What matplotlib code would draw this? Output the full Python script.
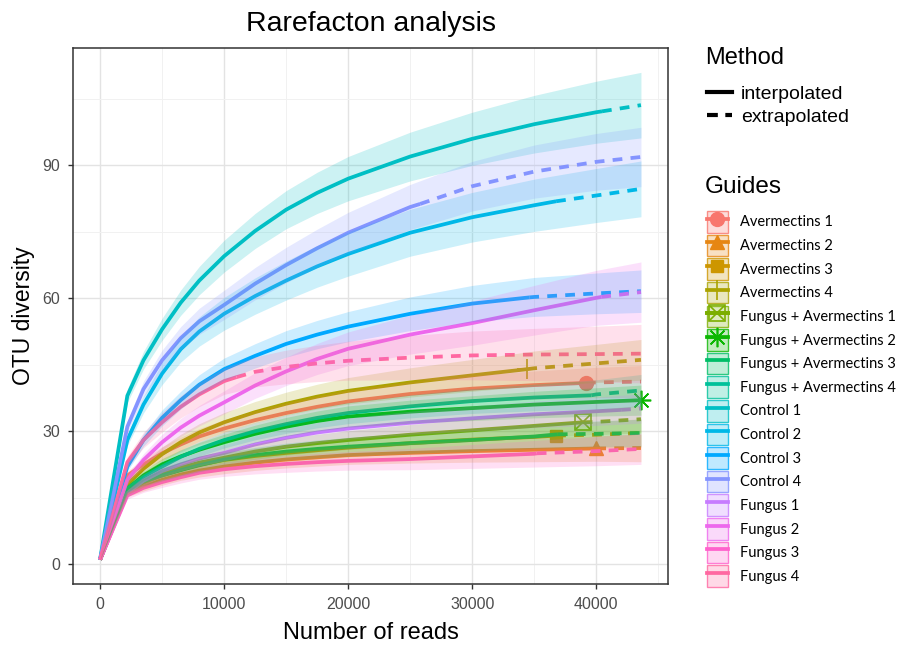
import numpy as np
import matplotlib
matplotlib.use("Agg")
import matplotlib.pyplot as plt
from matplotlib.lines import Line2D
from matplotlib.patches import Patch
from matplotlib.ticker import MultipleLocator

plt.rcParams['font.family'] = ['Liberation Sans', 'DejaVu Sans']

# ---------------- data ----------------
guides = ["Avermectins 1", "Avermectins 2", "Avermectins 3", "Avermectins 4",
          "Fungus + Avermectins 1", "Fungus + Avermectins 2",
          "Fungus + Avermectins 3", "Fungus + Avermectins 4",
          "Control 1", "Control 2", "Control 3", "Control 4",
          "Fungus 1", "Fungus 2", "Fungus 3", "Fungus 4"]

x_knots = [1, 2200, 3500, 5000, 6500, 8000, 10000, 12500, 15000, 17500,
           20000, 25000, 30000, 35000, 40000, 43600]

# sample size (end of interpolation) and observed diversity at it
sample_size = [39170, 40000, 36760, 34440, 38900, 43600, 36900, 39600,
               40460, 36760, 34600, 25800, 42000, 40400, 35200, 11000]
observed = [40.9, 26.1, 29.0, 44.0, 32.0, 37.0, 29.3, 38.1,
            102.2, 81.9, 60.2, 81.3, 34.8, 60.3, 25.0, 42.2]

# diversity estimates at x_knots
y_av1 = [1, 20.0, 22.5, 25.0, 27.0, 28.8, 30.6, 32.5, 34.1, 35.5, 36.7, 38.4, 39.6, 40.4, 41.0, 41.2]
y_av2 = [1, 16.0, 17.5, 19.0, 20.2, 21.1, 22.0, 22.9, 23.6, 24.1, 24.6, 25.1, 25.5, 25.8, 26.1, 26.2]
y_av3 = [1, 16.5, 18.3, 20.0, 21.3, 22.4, 23.5, 24.4, 25.1, 25.7, 26.3, 27.3, 28.1, 28.7, 29.2, 29.6]
y_av4 = [1, 18.0, 21.5, 24.8, 27.5, 29.7, 32.0, 34.3, 36.2, 37.8, 39.1, 41.0, 42.6, 44.2, 45.3, 46.1]
y_fa1 = [1, 16.5, 18.5, 20.5, 21.8, 22.9, 24.0, 25.4, 26.5, 27.3, 28.0, 29.2, 30.2, 31.2, 32.1, 32.7]
y_fa2 = [1, 17.0, 20.0, 22.5, 24.3, 25.8, 27.5, 29.4, 31.0, 32.3, 33.3, 34.4, 35.2, 36.0, 36.6, 37.0]
y_fa3 = [1, 17.0, 18.7, 20.0, 21.2, 22.3, 23.6, 24.6, 25.4, 26.0, 26.5, 27.3, 28.0, 28.8, 29.4, 29.6]
y_fa4 = [1, 17.0, 19.7, 22.0, 24.2, 26.0, 28.0, 30.0, 31.6, 33.0, 34.1, 35.6, 36.8, 37.6, 38.3, 39.2]
y_ct1 = [1, 38.0, 46.0, 53.0, 59.0, 64.0, 69.5, 75.2, 80.0, 83.8, 87.0, 92.0, 96.0, 99.3, 102.0, 103.6]
y_ct2 = [1, 28.0, 36.0, 43.0, 48.5, 52.5, 56.5, 60.5, 64.0, 67.2, 70.0, 74.8, 78.3, 81.0, 83.2, 84.7]
y_ct3 = [1, 22.0, 28.0, 33.0, 37.0, 40.5, 44.0, 47.0, 49.7, 51.8, 53.6, 56.5, 58.8, 60.3, 61.1, 61.6]
y_ct4 = [1, 31.0, 39.5, 46.0, 51.0, 54.8, 58.5, 63.3, 67.5, 71.3, 74.8, 80.6, 85.3, 88.6, 90.8, 91.9]
y_fu1 = [1, 16.0, 18.8, 21.0, 22.5, 23.8, 25.1, 27.0, 28.5, 29.7, 30.6, 31.9, 32.9, 33.8, 34.5, 35.1]
y_fu2 = [1, 19.0, 23.5, 27.5, 30.8, 33.5, 36.5, 40.3, 43.5, 46.3, 48.6, 51.8, 54.4, 57.3, 60.1, 61.4]
y_fu3 = [1, 15.5, 17.2, 18.5, 19.6, 20.6, 21.4, 22.1, 22.6, 23.0, 23.3, 23.7, 24.3, 24.9, 25.5, 26.0]
y_fu4 = [1, 23.0, 28.0, 32.0, 35.5, 38.3, 41.3, 43.4, 44.5, 45.3, 45.9, 46.6, 47.1, 47.3, 47.4, 47.5]

# half width of the 95% confidence band at x_knots
ci_av1 = [0, 1.0, 1.25, 1.5, 1.65, 1.8, 2.0, 2.15, 2.3, 2.45, 2.6, 2.8, 3.0, 3.2, 3.4, 3.6]
ci_av2 = [0, 0.8, 1.0, 1.2, 1.3, 1.45, 1.6, 1.75, 1.9, 2.0, 2.1, 2.3, 2.5, 2.7, 2.9, 3.1]
ci_av3 = [0, 0.8, 1.0, 1.2, 1.3, 1.45, 1.6, 1.75, 1.9, 2.0, 2.1, 2.3, 2.5, 2.7, 3.0, 3.2]
ci_av4 = [0, 1.0, 1.3, 1.6, 1.8, 2.0, 2.2, 2.4, 2.6, 2.8, 3.0, 3.3, 3.6, 3.9, 4.3, 4.6]
ci_fa1 = [0, 0.8, 1.0, 1.2, 1.3, 1.45, 1.6, 1.75, 1.9, 2.0, 2.1, 2.3, 2.5, 2.7, 2.9, 3.1]
ci_fa2 = [0, 0.9, 1.1, 1.3, 1.5, 1.65, 1.8, 1.95, 2.1, 2.25, 2.4, 2.6, 2.8, 3.0, 3.2, 3.4]
ci_fa3 = [0, 0.8, 1.0, 1.2, 1.3, 1.45, 1.6, 1.75, 1.9, 2.0, 2.1, 2.3, 2.5, 2.7, 2.9, 3.1]
ci_fa4 = [0, 0.9, 1.1, 1.3, 1.5, 1.65, 1.8, 1.95, 2.1, 2.25, 2.4, 2.6, 2.8, 3.0, 3.3, 3.6]
ci_ct1 = [0, 1.5, 2.0, 2.5, 2.85, 3.2, 3.6, 3.95, 4.3, 4.65, 5.0, 5.5, 6.0, 6.5, 7.0, 7.4]
ci_ct2 = [0, 1.3, 1.9, 2.5, 2.9, 3.3, 3.7, 4.1, 4.4, 4.7, 5.0, 5.3, 5.6, 5.9, 6.1, 6.3]
ci_ct3 = [0, 1.0, 1.4, 1.8, 2.0, 2.25, 2.5, 2.75, 3.0, 3.2, 3.4, 3.8, 4.1, 4.4, 4.6, 4.8]
ci_ct4 = [0, 1.3, 1.8, 2.3, 2.6, 2.95, 3.3, 3.65, 4.0, 4.3, 4.6, 5.1, 5.6, 6.0, 6.4, 6.7]
ci_fu1 = [0, 0.8, 1.05, 1.3, 1.45, 1.6, 1.8, 1.95, 2.1, 2.25, 2.4, 2.6, 2.8, 3.0, 3.2, 3.3]
ci_fu2 = [0, 1.0, 1.4, 1.8, 2.05, 2.3, 2.6, 2.9, 3.2, 3.5, 3.8, 4.4, 5.0, 5.6, 6.2, 6.8]
ci_fu3 = [0, 0.8, 1.0, 1.2, 1.3, 1.45, 1.6, 1.75, 1.9, 2.0, 2.1, 2.4, 2.7, 3.0, 3.3, 3.5]
ci_fu4 = [0, 1.3, 1.75, 2.2, 2.5, 2.75, 3.0, 3.4, 3.8, 4.1, 4.4, 5.0, 5.5, 5.9, 6.3, 6.6]

x_ticks = [0, 10000, 20000, 30000, 40000]
y_ticks = [0, 30, 60, 90]

y_all = [y_av1, y_av2, y_av3, y_av4, y_fa1, y_fa2, y_fa3, y_fa4,
         y_ct1, y_ct2, y_ct3, y_ct4, y_fu1, y_fu2, y_fu3, y_fu4]
ci_all = [ci_av1, ci_av2, ci_av3, ci_av4, ci_fa1, ci_fa2, ci_fa3, ci_fa4,
          ci_ct1, ci_ct2, ci_ct3, ci_ct4, ci_fu1, ci_fu2, ci_fu3, ci_fu4]


# ------------- ggplot-like hue palette -------------
def hcl_color(h, c=100.0, l=65.0):
    hr = np.deg2rad(h)
    U, V = c * np.cos(hr), c * np.sin(hr)
    Xn, Yn, Zn = 95.047, 100.0, 108.883
    Y = Yn * ((l + 16) / 116) ** 3
    den = Xn + 15 * Yn + 3 * Zn
    un, vn = 4 * Xn / den, 9 * Yn / den
    u = U / (13 * l) + un
    v = V / (13 * l) + vn
    X = 9.0 * Y * u / (4 * v)
    Z = 3 * Y / v - X / 3 - 5 * Y
    M = np.array([[3.240479, -1.537150, -0.498535],
                  [-0.969256, 1.875992, 0.041556],
                  [0.055648, -0.204043, 1.057311]])
    lin = M @ (np.array([X, Y, Z]) / 100.0)
    out = np.where(lin > 0.0031308, 1.055 * np.abs(lin) ** (1 / 2.4) - 0.055, 12.92 * lin)
    return tuple(np.clip(out, 0, 1))


n_g = len(guides)
colors = [hcl_color(h) for h in np.linspace(15, 375, n_g + 1)[:-1]]

# marker spec per series (ggplot shapes 16,17,15,3,7,8; none afterwards)
marker_specs = [
    [dict(marker='o', ms=10)],
    [dict(marker='^', ms=10)],
    [dict(marker='s', ms=9)],
    [dict(marker='+', ms=14, mew=1.2)],
    [dict(marker='s', ms=11, mfc='none', mew=1.2), dict(marker='x', ms=10, mew=1.2)],
    [dict(marker=(8, 2, 0), ms=14, mew=1.2)],
] + [[] for _ in range(n_g - 6)]

# ---------------- figure ----------------
W, H = 907, 648
fig = plt.figure(figsize=(W / 100, H / 100), dpi=100)
ax = fig.add_axes([73 / W, 1 - 584 / H, (668 - 73) / W, (584 - 48) / H])

lw = 2.7
dash = (0, (2.6, 2.2))
xs = np.array(x_knots, dtype=float)
for i in range(n_g):
    col = colors[i]
    ys = np.array(y_all[i], dtype=float)
    ci = np.array(ci_all[i], dtype=float)
    n = sample_size[i]
    obs = observed[i]
    m_in = xs < n
    m_ex = xs > n
    x_in = np.append(xs[m_in], n)
    y_in = np.append(ys[m_in], obs)
    ax.plot(x_in, y_in, color=col, lw=lw, solid_capstyle='butt',
            solid_joinstyle='round', zorder=3)
    if m_ex.any():
        x_ex = np.insert(xs[m_ex], 0, n)
        y_ex = np.insert(ys[m_ex], 0, obs)
        ax.plot(x_ex, y_ex, color=col, lw=lw, ls=dash, dash_capstyle='butt', zorder=3)
    for spec in marker_specs[i]:
        kw = dict(spec)
        mfc = kw.pop('mfc', col)
        ax.plot([n], [obs], ls='none', color=col, mfc=mfc, mec=col, zorder=2, **kw)
    ax.fill_between(xs, ys - ci, ys + ci, color=col, alpha=0.2, lw=0, zorder=4)

ax.set_xlim(-2180, 45780)
ax.set_ylim(-4.5, 116.5)
ax.set_xticks(x_ticks)
ax.set_yticks(y_ticks)
ax.set_xticklabels([str(v) for v in x_ticks])
ax.set_yticklabels([str(v) for v in y_ticks])
ax.xaxis.set_minor_locator(MultipleLocator(5000))
ax.yaxis.set_minor_locator(MultipleLocator(15))
ax.grid(which='major', color='#E3E3E3', lw=1.0)
ax.grid(which='minor', color='#F1F1F1', lw=0.7)
ax.set_axisbelow(True)
ax.tick_params(which='major', length=3.5, width=1, color='#333333',
               labelcolor='#4D4D4D', labelsize=11.5)
ax.tick_params(axis='x', which='major', pad=6)
ax.tick_params(axis='y', which='major', pad=6)
ax.tick_params(which='minor', length=0)
for sp in ax.spines.values():
    sp.set_color('#333333')
    sp.set_linewidth(1.1)

ax.set_xlabel("Number of reads", fontsize=17, labelpad=7)
ax.set_ylabel("OTU diversity", fontsize=16.5, labelpad=5)
ax.set_title("Rarefacton analysis", fontsize=20.5, pad=12)

# ---------------- legends ----------------
fig.text(705 / W, 1 - 58 / H, "Method", fontsize=17, ha='left', va='center')
method_handles = [Line2D([], [], color='black', lw=3),
                  Line2D([], [], color='black', lw=3, ls=(0, (2.6, 1.8)))]
fig.legend(method_handles, ["interpolated", "extrapolated"],
           loc='upper left', bbox_to_anchor=(707 / W, 1 - 85 / H),
           frameon=False, fontsize=14, handlelength=1.3, handletextpad=0.45,
           labelspacing=0.31, borderpad=0, borderaxespad=0)

fig.text(705 / W, 1 - 187 / H, "Guides", fontsize=17.5, ha='left', va='center')
guide_handles = []
for i in range(n_g):
    col = colors[i]
    parts = [Patch(facecolor=(*col, 0.25), edgecolor=(*col, 0.8), lw=1.0)]
    specs = marker_specs[i]
    if specs:
        for spec in specs:
            kw = dict(spec)
            mfc = kw.pop('mfc', col)
            parts.append(Line2D([], [], color=col, lw=lw, mfc=mfc, mec=col, **kw))
    else:
        parts.append(Line2D([], [], color=col, lw=lw))
    guide_handles.append(tuple(parts))

fs_g = 10.5
fig.legend(guide_handles, guides, loc='upper left',
           bbox_to_anchor=(707 / W, 1 - 211 / H), frameon=False,
           prop={'family': ['Lato', 'DejaVu Sans'], 'size': fs_g},
           handlelength=21 / (fs_g * 1.389), handleheight=1.9,
           handletextpad=0.8, labelspacing=0.14, borderpad=0, borderaxespad=0)

fig.savefig("out.png", dpi=100)
